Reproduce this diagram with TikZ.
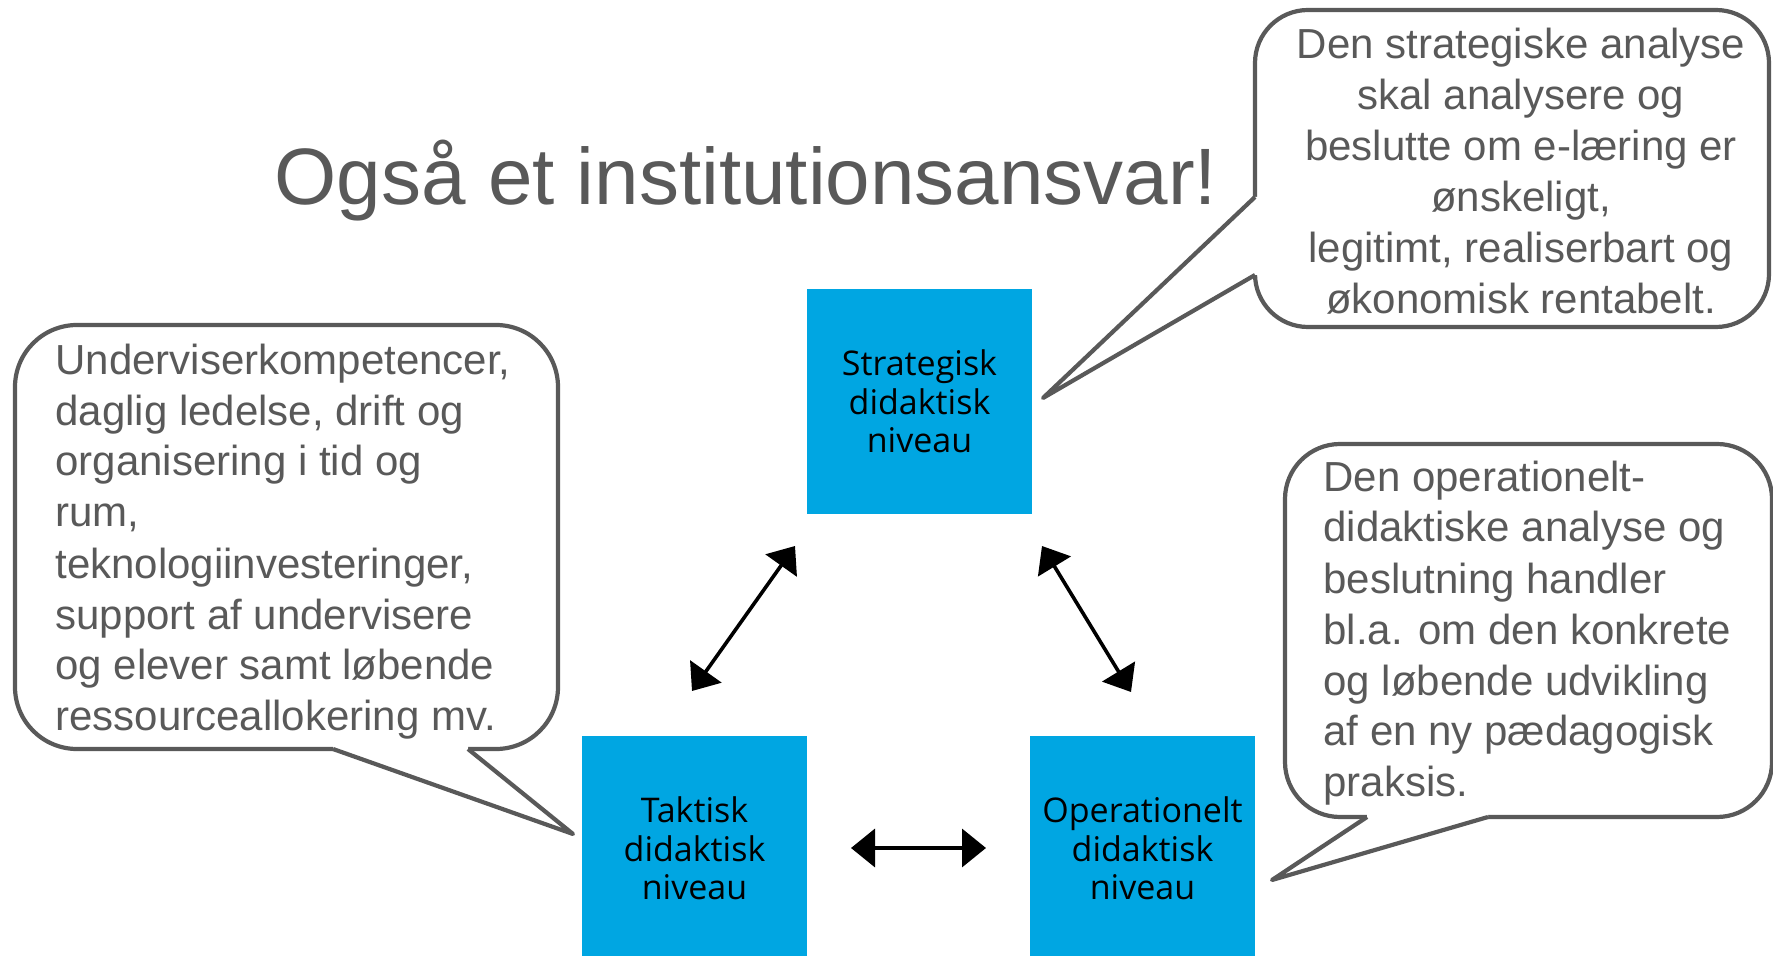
\documentclass[tikz,border=0pt]{standalone}
\usepackage{fontspec}
\setmainfont{Liberation Sans}
\newfontfamily\boxfont{Open Sans}
\usetikzlibrary{arrows.meta}
\definecolor{boxblue}{RGB}{0,166,226}
\definecolor{txtgray}{RGB}{89,89,89}
\begin{document}
\begin{tikzpicture}[x=0.5pt,y=-0.5pt,
  level/.style={rectangle, fill=boxblue, minimum width=112.5pt, minimum height=112.5pt,
    inner sep=0pt, align=center, font=\boxfont\fontsize{17}{19.2}\selectfont, text=black},
  bubble/.style={draw=txtgray, line width=2.1pt, fill=white, rounded corners=#1},
  wedge/.style={draw=txtgray, line width=2.1pt, line join=round},
  calltext/.style={inner sep=0pt, text=txtgray, font=\fontsize{21}{25.5}\selectfont},
  link/.style={line width=1.8pt, {Triangle[length=12pt,width=19pt]}-{Triangle[length=12pt,width=19pt]}}
]
\useasboundingbox (0,0) rectangle (1773,956);

% title
\node[inner sep=0pt, anchor=base, text=txtgray, font=\fontsize{40}{48}\selectfont] (title) at (746,205) {Også et institutionsansvar!};

% level boxes
\node[level] (S) at (919.5,401.5) {Strategisk\\didaktisk\\niveau};
\node[level] (T) at (694.5,848.5) {Taktisk\\didaktisk\\niveau};
\node[level] (O) at (1142.5,848.5) {Operationelt\\didaktisk\\niveau};

% arrows
\coordinate (tl1) at (692,691);
\coordinate (tl2) at (795,546);
\coordinate (tr1) at (1042,546);
\coordinate (tr2) at (1131,692);
\coordinate (h1) at (851,848);
\coordinate (h2) at (986,848);
\draw[link] (tl1) -- (tl2);
\draw[link] (tr1) -- (tr2);
\draw[link] (h1) -- (h2);

% left callout
\draw[bubble=31pt] (15,325) rectangle (558,749);
\coordinate (lj1) at (333,749);
\coordinate (lj2) at (468,749);
\coordinate (ltip) at (573,834);
\fill[white] (lj1) -- (ltip) -- (lj2) -- ++(0,-3) -- (333,746) -- cycle;
\draw[wedge] (lj1) -- (ltip) -- (lj2);
\node[calltext, anchor=base west, align=left] (ltext) at (55,731) {Underviserkompetencer,\\daglig ledelse, drift og\\organisering i tid og\\rum,\\teknologiinvesteringer,\\support af undervisere\\og elever samt løbende\\ressourceallokering mv.};

% top-right callout
\draw[bubble=26.5pt] (1255,10) rectangle (1769,327);
\coordinate (rj1) at (1255,197);
\coordinate (rj2) at (1255,275);
\coordinate (rtip) at (1043,398);
\fill[white] (rj1) -- (rtip) -- (rj2) -- ++(3,0) -- (1258,197) -- cycle;
\draw[wedge] (rj1) -- (rtip) -- (rj2);
\node[calltext, anchor=base, align=center] (rtext) at (1521,314) {Den strategiske analyse\\skal analysere og\\beslutte om e-læring er\\ønskeligt,\\legitimt, realiserbart og\\økonomisk rentabelt.};

% bottom-right callout
\draw[bubble=27.5pt] (1285,444) rectangle (1772,817);
\coordinate (bj1) at (1367,817);
\coordinate (bj2) at (1488,817);
\coordinate (btip) at (1272,880);
\fill[white] (bj1) -- (btip) -- (bj2) -- ++(0,-3) -- (1367,814) -- cycle;
\draw[wedge] (bj1) -- (btip) -- (bj2);
\node[calltext, anchor=base west, align=left] (btext) at (1323,797) {Den operationelt-\\didaktiske analyse og\\beslutning handler\\bl.a. om den konkrete\\og løbende udvikling\\af en ny pædagogisk\\praksis.};
\end{tikzpicture}
\end{document}
